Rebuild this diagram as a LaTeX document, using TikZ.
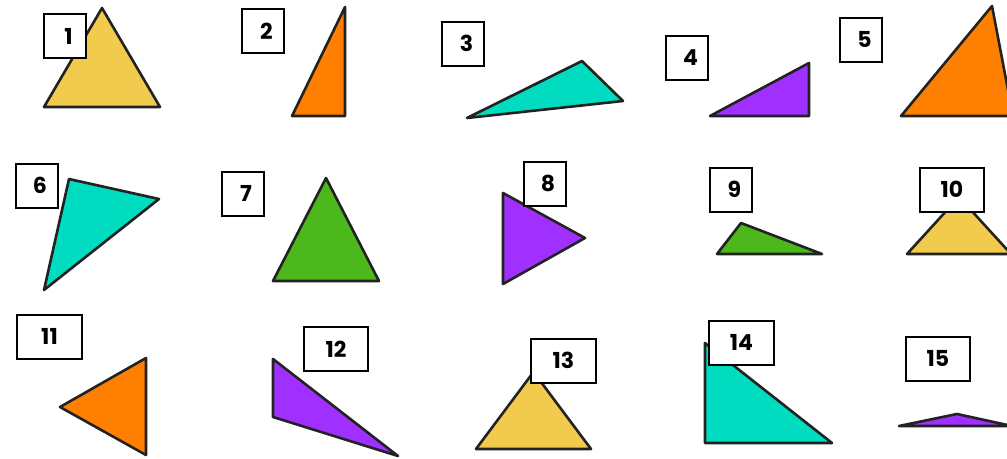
\documentclass[tikz,border=0pt]{standalone}
\usepackage{fontspec}
\setmainfont{Poppins}

\definecolor{triyellow}{HTML}{F2CB4E}
\definecolor{triorange}{HTML}{FF8000}
\definecolor{triteal}{HTML}{00DCC0}
\definecolor{tripurple}{HTML}{A030FF}
\definecolor{trigreen}{HTML}{4CB81C}
\definecolor{edgegray}{HTML}{222222}

\tikzset{
  tri/.style={draw=edgegray, line width=2.6pt, line join=round, fill=#1},
  numbox/.style={draw=black, line width=2pt, fill=white, inner sep=0pt,
    minimum height=44pt, font=\bfseries\fontsize{22}{22}\selectfont},
}

\begin{document}
\begin{tikzpicture}[x=1pt, y=-1pt]

% Page frame (pixel grid, y pointing down)
\useasboundingbox (0,0) rectangle (1007,458);
\clip (0,0) rectangle (1007,458);

% Row 1
\draw[tri=triyellow] (44,107) -- (102,8) -- (160,107) -- cycle;
\draw[tri=triorange] (292,116) -- (345,7) -- (345,116) -- cycle;
\draw[tri=triteal] (467,118) -- (582,61) -- (623,101) -- cycle;
\draw[tri=tripurple] (710,116) -- (809,63) -- (809,116) -- cycle;
\draw[tri=triorange] (901,116) -- (992,6) -- (1013,116) -- cycle;

% Row 2
\draw[tri=triteal] (69,179) -- (159,199) -- (44,290) -- cycle;
\draw[tri=trigreen] (273,281) -- (326,178) -- (379,281) -- cycle;
\draw[tri=tripurple] (503,193) -- (585,238) -- (503,284) -- cycle;
\draw[tri=trigreen] (717,254) -- (741,223) -- (822,254) -- cycle;
\draw[tri=triyellow] (907,254) -- (959,197) -- (1011,254) -- cycle;

% Row 3
\draw[tri=triorange] (60,407) -- (146,358) -- (146,455) -- cycle;
\draw[tri=tripurple] (273,359) -- (273,417) -- (398,456) -- cycle;
\draw[tri=triyellow] (476,449) -- (533.5,372) -- (591,449) -- cycle;
\draw[tri=triteal] (705,343) -- (705,443) -- (832,443) -- cycle;
\draw[tri=tripurple] (899,426) -- (957,414) -- (1012,426) -- cycle;

% Number boxes (centre x / centre y / box width / text nudge)
\foreach \n/\x/\y/\w/\s in {1/65/36/42/7, 2/263/31/42/7, 3/463/43.5/42/7,
    4/687/57.5/42/7, 5/861/39.5/42/7, 6/36.5/185.5/42/7, 7/242.5/193.5/42/7,
    8/544.5/183.5/42/7, 9/731/189.5/42/7, 10/952/189.5/64/0, 11/49.5/336.5/65/0,
    12/336/349/64/0, 13/563.5/360.5/65/0, 14/741.5/342.5/65/0, 15/938/358.5/64/0} {
  \node[numbox, minimum width=\w pt] (num\n) at (\x,\y) {\hspace*{\s pt}\n};
}

\end{tikzpicture}
\end{document}
